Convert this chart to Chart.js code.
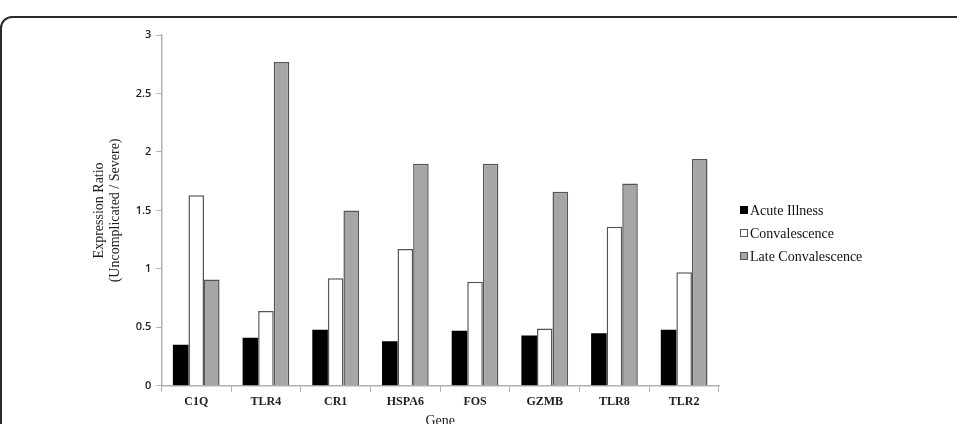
<!DOCTYPE html>
<html>
<head>
<meta charset="utf-8">
<script src="https://cdn.jsdelivr.net/npm/chart.js@4/dist/chart.umd.min.js"></script>
<style>
    html, body { margin: 0; padding: 0; background: #fff; overflow: hidden; }
    #wrap { position: relative; width: 957px; height: 424px; }
    #frame {
        position: absolute; left: 0; top: 16px; width: 980px; height: 440px;
        border: 2px solid #2a2a2a; border-radius: 12px; box-sizing: border-box;
    }
    canvas { position: absolute; left: 0; top: 0; }
</style>
</head>
<body>
<div id="wrap">
    <div id="frame"></div>
    <canvas id="chart" width="957" height="424"></canvas>
</div>
<script>
var genes = ['C1Q', 'TLR4', 'CR1', 'HSPA6', 'FOS', 'GZMB', 'TLR8', 'TLR2'];
var acuteIllness = [0.35, 0.41, 0.48, 0.38, 0.47, 0.43, 0.45, 0.48];
var convalescence = [1.63, 0.64, 0.92, 1.17, 0.89, 0.49, 1.36, 0.97];
var lateConvalescence = [0.91, 2.77, 1.50, 1.90, 1.90, 1.66, 1.73, 1.94];
var yTitle = ['Expression Ratio', '(Uncomplicated / Severe)'];

var serif = "'Liberation Serif', 'Times New Roman', serif";
var sans = "'Open Sans', 'DejaVu Sans', sans-serif";

// Legend drawn by hand so it sits where the original puts it
var sideLegend = {
    id: 'sideLegend',
    afterDraw: function(chart) {
        var ctx = chart.ctx;
        var x = chart.chartArea.right + 21;
        var y = 210;
        ctx.save();
        ctx.font = '14px ' + serif;
        ctx.textBaseline = 'middle';
        chart.data.datasets.forEach(function(ds, i) {
            var yy = y + i * 23;
            ctx.fillStyle = ds.backgroundColor;
            ctx.fillRect(x, yy - 4, 8, 8);
            if (ds.borderWidth) {
                ctx.strokeStyle = ds.borderColor;
                ctx.lineWidth = 1;
                ctx.strokeRect(x + 0.5, yy - 3.5, 7, 7);
            }
            ctx.fillStyle = '#111';
            ctx.fillText(ds.label, x + 10, yy + 1);
        });
        ctx.restore();
    }
};

new Chart(document.getElementById('chart'), {
    type: 'bar',
    data: {
        labels: genes,
        datasets: [{
            label: 'Acute Illness',
            data: acuteIllness,
            backgroundColor: '#000000',
            borderWidth: 0
        }, {
            label: 'Convalescence',
            data: convalescence,
            backgroundColor: '#ffffff',
            borderColor: '#555555',
            borderWidth: 1.5
        }, {
            label: 'Late Convalescence',
            data: lateConvalescence,
            backgroundColor: '#a6a6a6',
            borderColor: '#555555',
            borderWidth: 1.5
        }]
    },
    options: {
        responsive: false,
        animation: false,
        layout: { padding: { left: 92, right: 238, top: 35, bottom: -6 } },
        plugins: {
            legend: { display: false },
            tooltip: { enabled: false }
        },
        datasets: {
            bar: { categoryPercentage: 0.67, barPercentage: 1.0 }
        },
        scales: {
            x: {
                grid: { drawOnChartArea: false, drawTicks: true, tickLength: 6, color: '#b0b0b0', offset: true },
                border: { display: true, color: '#b0b0b0', width: 1.5 },
                ticks: { color: '#222', font: { family: serif, size: 12, weight: 'bold' }, padding: 3 },
                title: { display: true, text: 'Gene', color: '#222', font: { family: serif, size: 14 }, padding: { top: 1, bottom: 0 } }
            },
            y: {
                min: 0,
                max: 3,
                ticks: {
                    stepSize: 0.5, color: '#222', font: { family: sans, size: 11, weight: '600' }, padding: 5,
                    callback: function(v) { return String(v); }
                },
                grid: { drawOnChartArea: false, drawTicks: true, tickLength: 5, color: '#b0b0b0' },
                border: { display: true, color: '#b0b0b0', width: 1.5 },
                title: { display: true, text: yTitle, color: '#222', font: { family: serif, size: 14, lineHeight: 1.1 }, padding: { top: 0, bottom: 8 } }
            }
        }
    },
    plugins: [sideLegend]
});
</script>
</body>
</html>
